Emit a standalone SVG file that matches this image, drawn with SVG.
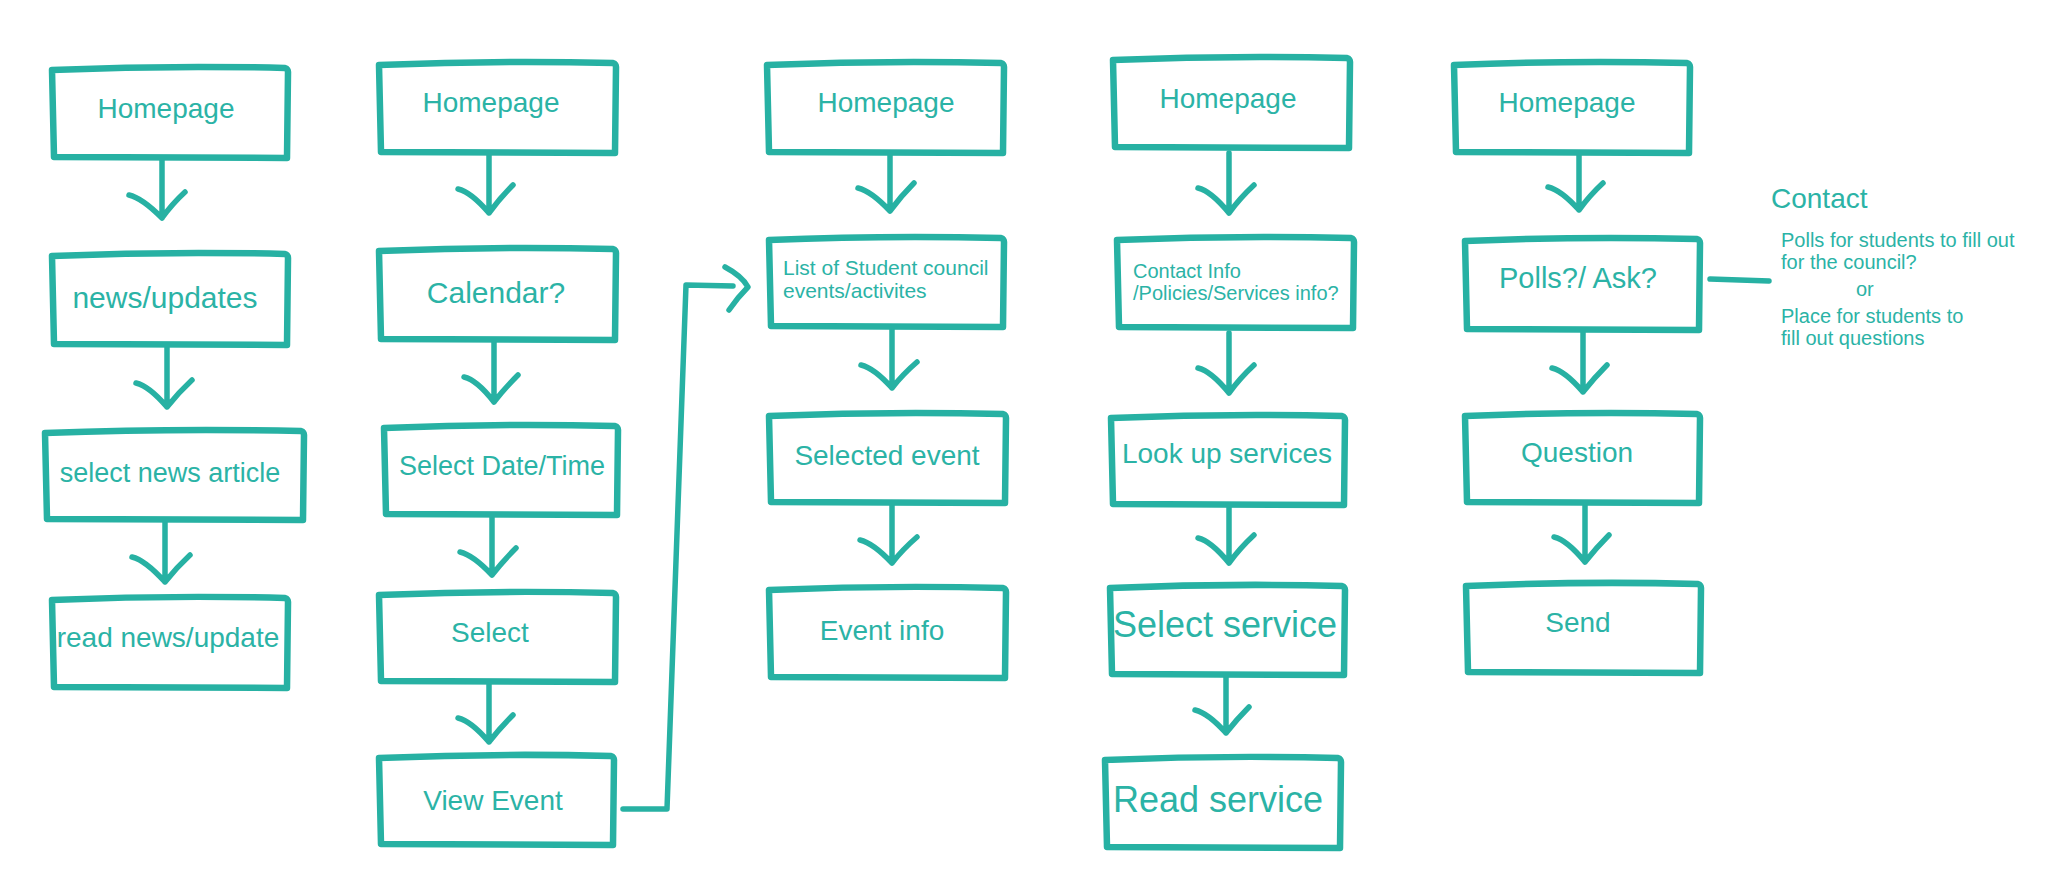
<svg xmlns="http://www.w3.org/2000/svg" width="2054" height="875" viewBox="0 0 2054 875">
<style>
.box{fill:none;stroke:#27b1a3;stroke-width:6.5;stroke-linejoin:round;stroke-linecap:round}
.ln{fill:none;stroke:#27b1a3;stroke-width:5.5;stroke-linecap:round;stroke-linejoin:round}
text{font-family:"Liberation Sans",Arial,sans-serif;fill:#2bb3a6}
.c{text-anchor:middle}
</style>
<rect width="2054" height="875" fill="#ffffff"/>
<g id="connectors">
<path class="ln" d="M162,158 L162,218 M129,195 Q142,198 162,218 Q172,204 185,192"/>
<path class="ln" d="M167,345 L167,407 M136,383 Q149,386 167,407 Q178,393 192,380"/>
<path class="ln" d="M165,520 L165,582 M132,557 Q145,560 165,582 Q176,568 190,555"/>
<path class="ln" d="M489,153 L489,213 M458,189 Q471,192 489,213 Q500,198 513,185"/>
<path class="ln" d="M494,340 L494,402 M464,377 Q477,380 494,402 Q505,388 518,375"/>
<path class="ln" d="M492,515 L492,575 M460,552 Q473,555 492,575 Q503,561 516,548"/>
<path class="ln" d="M489,682 L489,742 M458,718 Q471,721 489,742 Q500,728 513,715"/>
<path class="ln" d="M890,153 L890,211 M858,188 Q871,191 890,211 Q901,196 914,183"/>
<path class="ln" d="M892,327 L892,388 M861,365 Q874,368 892,388 Q903,374 917,362"/>
<path class="ln" d="M892,503 L892,563 M860,540 Q873,543 892,563 Q903,549 917,537"/>
<path class="ln" d="M1229,153 L1229,213 M1198,188 Q1211,191 1229,213 Q1240,198 1254,185"/>
<path class="ln" d="M1229,333 L1229,393 M1198,368 Q1211,371 1229,393 Q1240,378 1254,365"/>
<path class="ln" d="M1229,505 L1229,563 M1198,538 Q1211,541 1229,563 Q1240,548 1254,535"/>
<path class="ln" d="M1226,675 L1226,733 M1195,710 Q1208,713 1226,733 Q1237,719 1249,707"/>
<path class="ln" d="M1579,153 L1579,210 M1548,187 Q1561,190 1579,210 Q1590,195 1603,183"/>
<path class="ln" d="M1583,330 L1583,392 M1552,368 Q1565,371 1583,392 Q1594,378 1607,365"/>
<path class="ln" d="M1585,503 L1585,562 M1554,537 Q1567,540 1585,562 Q1596,548 1609,535"/>
<path class="ln" d="M623,809 L667,809 L686,285 L733,286 M725,267 Q742,276 748,287 Q738,297 729,310"/>
<path class="ln" d="M1710,279 L1769,281"/>
</g>
<g id="n1"><path class="box" d="M52,70 Q170,65 285,68 Q288,69 288,72 L287,158 L54,157 Z"/><text class="c" x="166" y="118" font-size="28">Homepage</text></g>
<g id="n2"><path class="box" d="M52,256 Q170,251 285,254 Q288,255 288,258 L287,345 L54,344 Z"/><text class="c" x="165" y="308" font-size="30">news/updates</text></g>
<g id="n3"><path class="box" d="M45,433 Q175,428 301,431 Q304,432 304,435 L303,520 L47,519 Z"/><text class="c" x="170" y="482" font-size="27">select news article</text></g>
<g id="n4"><path class="box" d="M52,600 Q170,595 285,598 Q288,599 288,602 L287,688 L54,687 Z"/><text class="c" x="168" y="647" font-size="28">read news/update</text></g>
<g id="n5"><path class="box" d="M379,65 Q497,60 613,63 Q616,64 616,67 L615,153 L381,152 Z"/><text class="c" x="491" y="112" font-size="28">Homepage</text></g>
<g id="n6"><path class="box" d="M379,251 Q497,246 613,249 Q616,250 616,253 L615,340 L381,339 Z"/><text class="c" x="496" y="303" font-size="30">Calendar?</text></g>
<g id="n7"><path class="box" d="M384,428 Q500,423 615,426 Q618,427 618,430 L617,515 L386,514 Z"/><text class="c" x="502" y="475" font-size="27">Select Date/Time</text></g>
<g id="n8"><path class="box" d="M379,595 Q497,590 613,593 Q616,594 616,597 L615,682 L381,681 Z"/><text class="c" x="490" y="642" font-size="28">Select</text></g>
<g id="n9"><path class="box" d="M379,758 Q497,753 611,756 Q614,757 614,760 L613,845 L381,844 Z"/><text class="c" x="493" y="810" font-size="28">View Event</text></g>
<g id="n10"><path class="box" d="M767,65 Q885,60 1001,63 Q1004,64 1004,67 L1003,153 L769,152 Z"/><text class="c" x="886" y="112" font-size="28">Homepage</text></g>
<g id="n11"><path class="box" d="M769,240 Q887,235 1001,238 Q1004,239 1004,242 L1003,327 L771,326 Z"/><text x="783" y="275" font-size="21">List of Student council</text><text x="783" y="298" font-size="21">events/activites</text></g>
<g id="n12"><path class="box" d="M769,416 Q887,411 1003,414 Q1006,415 1006,418 L1005,503 L771,502 Z"/><text class="c" x="887" y="465" font-size="28">Selected event</text></g>
<g id="n13"><path class="box" d="M769,590 Q887,585 1003,588 Q1006,589 1006,592 L1005,678 L771,677 Z"/><text class="c" x="882" y="640" font-size="28">Event info</text></g>
<g id="n14"><path class="box" d="M1113,60 Q1231,55 1347,58 Q1350,59 1350,62 L1349,148 L1115,147 Z"/><text class="c" x="1228" y="108" font-size="28">Homepage</text></g>
<g id="n15"><path class="box" d="M1117,240 Q1235,235 1351,238 Q1354,239 1354,242 L1353,328 L1119,327 Z"/><text x="1133" y="278" font-size="20">Contact Info</text><text x="1133" y="300" font-size="20">/Policies/Services info?</text></g>
<g id="n16"><path class="box" d="M1111,418 Q1228,413 1342,416 Q1345,417 1345,420 L1344,505 L1113,504 Z"/><text class="c" x="1227" y="463" font-size="28">Look up services</text></g>
<g id="n17"><path class="box" d="M1110,588 Q1227,583 1342,586 Q1345,587 1345,590 L1344,675 L1112,674 Z"/><text class="c" x="1225" y="637" font-size="36">Select service</text></g>
<g id="n18"><path class="box" d="M1105,760 Q1222,755 1338,758 Q1341,759 1341,762 L1340,848 L1107,847 Z"/><text class="c" x="1218" y="812" font-size="36">Read service</text></g>
<g id="n19"><path class="box" d="M1454,65 Q1572,60 1687,63 Q1690,64 1690,67 L1689,153 L1456,152 Z"/><text class="c" x="1567" y="112" font-size="28">Homepage</text></g>
<g id="n20"><path class="box" d="M1465,241 Q1583,236 1697,239 Q1700,240 1700,243 L1699,330 L1467,329 Z"/><text class="c" x="1578" y="288" font-size="29">Polls?/ Ask?</text></g>
<g id="n21"><path class="box" d="M1465,416 Q1583,411 1697,414 Q1700,415 1700,418 L1699,503 L1467,502 Z"/><text class="c" x="1577" y="462" font-size="28">Question</text></g>
<g id="n22"><path class="box" d="M1466,586 Q1584,581 1698,584 Q1701,585 1701,588 L1700,673 L1468,672 Z"/><text class="c" x="1578" y="632" font-size="28">Send</text></g>
<g id="contact-note">
<text x="1771" y="208" font-size="28">Contact</text>
<text x="1781" y="247" font-size="20">Polls for students to fill out</text>
<text x="1781" y="269" font-size="20">for the council?</text>
<text x="1856" y="296" font-size="20">or</text>
<text x="1781" y="323" font-size="20">Place for students to</text>
<text x="1781" y="345" font-size="20">fill out questions</text>
</g>
</svg>
